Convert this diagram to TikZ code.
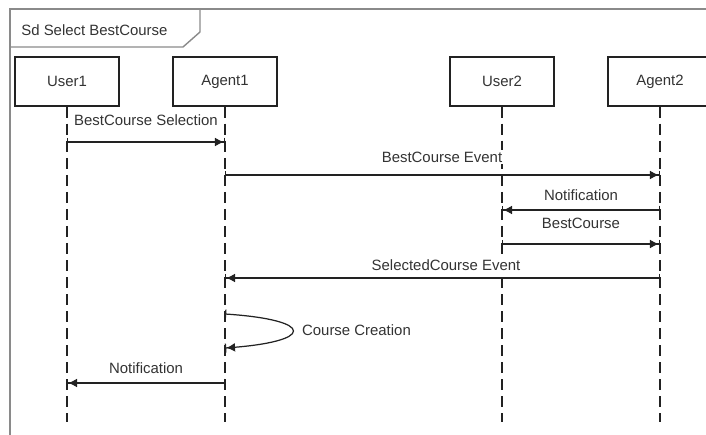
\documentclass[tikz,border=0pt]{standalone}
\usepackage{fontspec}
\setmainfont{Liberation Sans}
\usetikzlibrary{arrows.meta}
\definecolor{txtgray}{HTML}{333333}
\definecolor{linegray}{HTML}{222222}
\definecolor{framegray}{HTML}{8A8A8A}

\begin{document}
\begin{tikzpicture}[x=0.02cm,y=-0.02cm,line cap=butt,
  font=\fontsize{8.5pt}{10pt}\selectfont,text=txtgray,
  actor/.style={draw=linegray,line width=0.75pt,fill=white,minimum width=2.08cm,minimum height=0.98cm,inner sep=0pt},
  lifeline/.style={draw=linegray,line width=0.8pt,dash pattern=on 6.3pt off 3.4pt},
  msg/.style={draw=linegray,line width=0.7pt,{Bar[width=5pt]}-{Latex[length=5pt,width=5pt] Bar[width=5pt]}},
  msglabel/.style={inner sep=1pt,fill=white}]
\useasboundingbox (0,0) rectangle (706,435);
\clip (0,0) rectangle (706,435);
% frame and title tab
\draw[framegray,line width=1.1pt] (10,435) -- (10,9) -- (706,9);
\draw[framegray,line width=0.8pt] (10,47) -- (183,47) -- (200,32) -- (200,9);
\node[anchor=west,inner sep=0pt] (title) at (21,30) {Sd Select BestCourse};
% actors
\node[actor] (user1) at (67,81.5) {User1};
\node[actor] (agent1) at (225,81.5) {Agent1};
\node[actor] (user2) at (502,81.5) {User2};
\node[actor] (agent2) at (660,81.5) {Agent2};
% lifelines
\foreach \a/\x in {user1/67,agent1/225,user2/502,agent2/660}
  \coordinate (\a-end) at (\x,422);
\foreach \a in {user1,agent1,user2,agent2}
  \draw[lifeline] (\a.south) -- (\a-end);
% message end points
\coordinate (m1a) at (67,142);  \coordinate (m1b) at (225,142);
\coordinate (m2a) at (225,175); \coordinate (m2b) at (660,175);
\coordinate (m3a) at (660,210); \coordinate (m3b) at (502,210);
\coordinate (m4a) at (502,244); \coordinate (m4b) at (660,244);
\coordinate (m5a) at (660,278); \coordinate (m5b) at (225,278);
\coordinate (m6a) at (225,314); \coordinate (m6b) at (225,348);
\coordinate (m7a) at (225,383); \coordinate (m7b) at (67,383);
% messages
\draw[msg] (m1a) -- (m1b);
\node[msglabel] (l1) at (146,120) {BestCourse Selection};
\draw[msg] (m2a) -- (m2b);
\node[msglabel] (l2) at (442,157) {BestCourse Event};
\draw[msg] (m3a) -- (m3b);
\node[msglabel] (l3) at (581,195) {Notification};
\draw[msg] (m4a) -- (m4b);
\node[msglabel] (l4) at (581,223) {BestCourse};
\draw[msg] (m5a) -- (m5b);
\node[msglabel] (l5) at (446,265) {SelectedCourse Event};
\draw[msg] (m6a) .. controls (316,320) and (316,342) .. (m6b);
\node[msglabel,anchor=west] (l6) at (300,330) {Course Creation};
\draw[msg] (m7a) -- (m7b);
\node[msglabel] (l7) at (146,368) {Notification};
\end{tikzpicture}
\end{document}
